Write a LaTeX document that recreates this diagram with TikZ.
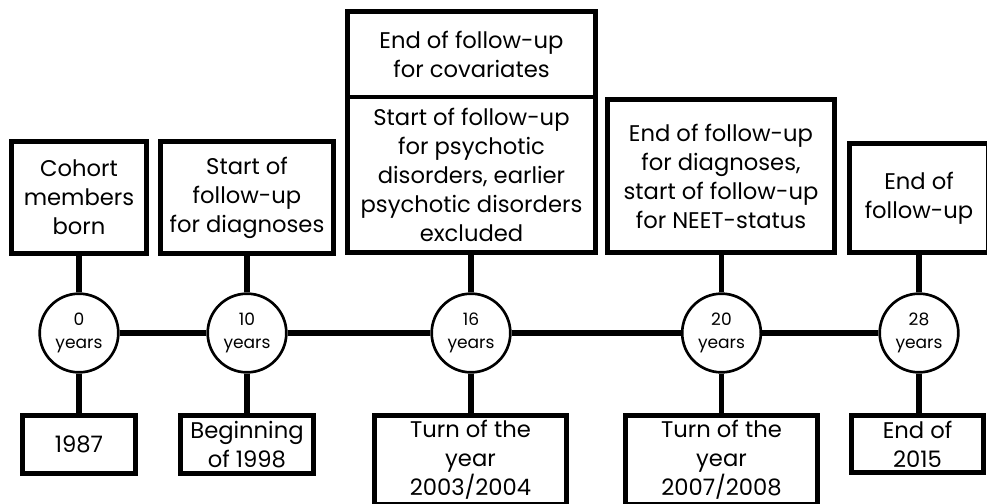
\documentclass[tikz,border=0pt]{standalone}
\usepackage{fontspec}
\setmainfont{Poppins}
\begin{document}
\begin{tikzpicture}[x=0.75pt,y=-0.75pt,
  box/.style={draw, line width=3.5pt, align=center, inner sep=0pt,
    font=\fontsize{17}{21.75}\selectfont},
  yr/.style={draw, circle, line width=2pt, minimum size=59pt, inner sep=0pt,
    align=center, fill=white, font=\fontsize{12.8}{17}\selectfont},
  link/.style={line width=4pt}]
\clip (0,0) rectangle (987,503);
\fill[white] (0,0) rectangle (987,503);
% top boxes
\node[box, minimum width=101.25pt, minimum height=84pt] (tA) at (79,197.5) {Cohort\\members\\born};
\node[box, minimum width=129.75pt, minimum height=84pt] (tB) at (247,197.5) {Start of\\follow-up\\for diagnoses};
\node[box, minimum width=186pt, minimum height=64pt] (tC) at (471.5,54.25) {End of follow-up\\for covariates};
\node[box, minimum width=186pt, minimum height=116.6pt] (tD) at (471.5,174.75) {Start of follow-up\\for psychotic\\disorders, earlier\\psychotic disorders\\excluded};
\node[box, minimum width=170.25pt, minimum height=114.75pt] (tE) at (721,176) {End of follow-up\\for diagnoses,\\start of follow-up\\for NEET-status};
\node[box, minimum width=104.25pt, minimum height=81.75pt] (tF) at (919,198) {End of\\follow-up};
% circles
\node[yr] (c0) at (79,333) {0\\years};
\node[yr] (c10) at (247,333) {10\\years};
\node[yr] (c16) at (471,333) {16\\years};
\node[yr] (c20) at (721.5,333) {20\\years};
\node[yr] (c28) at (919,333) {28\\years};
% bottom boxes
\node[box, minimum width=84.75pt, minimum height=43.5pt] (bA) at (79,444.5) {1987};
\node[box, minimum width=99.75pt, minimum height=43.5pt] (bB) at (247,444.5) {Beginning\\of 1998};
\node[box, minimum width=144pt, minimum height=66.75pt] (bC) at (470.5,460) {Turn of the\\year\\2003/2004};
\node[box, minimum width=144pt, minimum height=66.75pt] (bD) at (721.5,460) {Turn of the\\year\\2007/2008};
\node[box, minimum width=99pt, minimum height=42.75pt] (bE) at (917.5,444) {End of\\2015};
% connectors
\draw[link] (c0) -- (c10);
\draw[link] (c10) -- (c16);
\draw[link] (c16) -- (c20);
\draw[link] (c20) -- (c28);
\draw[link] (tA.south) -- (c0.north);
\draw[link] (tB.south) -- (c10.north);
\draw[link] (tD.south -| c16) -- (c16.north);
\draw[link] (tE.south -| c20) -- (c20.north);
\draw[link] (tF.south) -- (c28.north);
\draw[link] (c0.south) -- (bA.north);
\draw[link] (c10.south) -- (bB.north);
\draw[link] (c16.south) -- (bC.north -| c16);
\draw[link] (c20.south) -- (bD.north -| c20);
\draw[link] (c28.south) -- (bE.north -| c28);
\end{tikzpicture}
\end{document}
